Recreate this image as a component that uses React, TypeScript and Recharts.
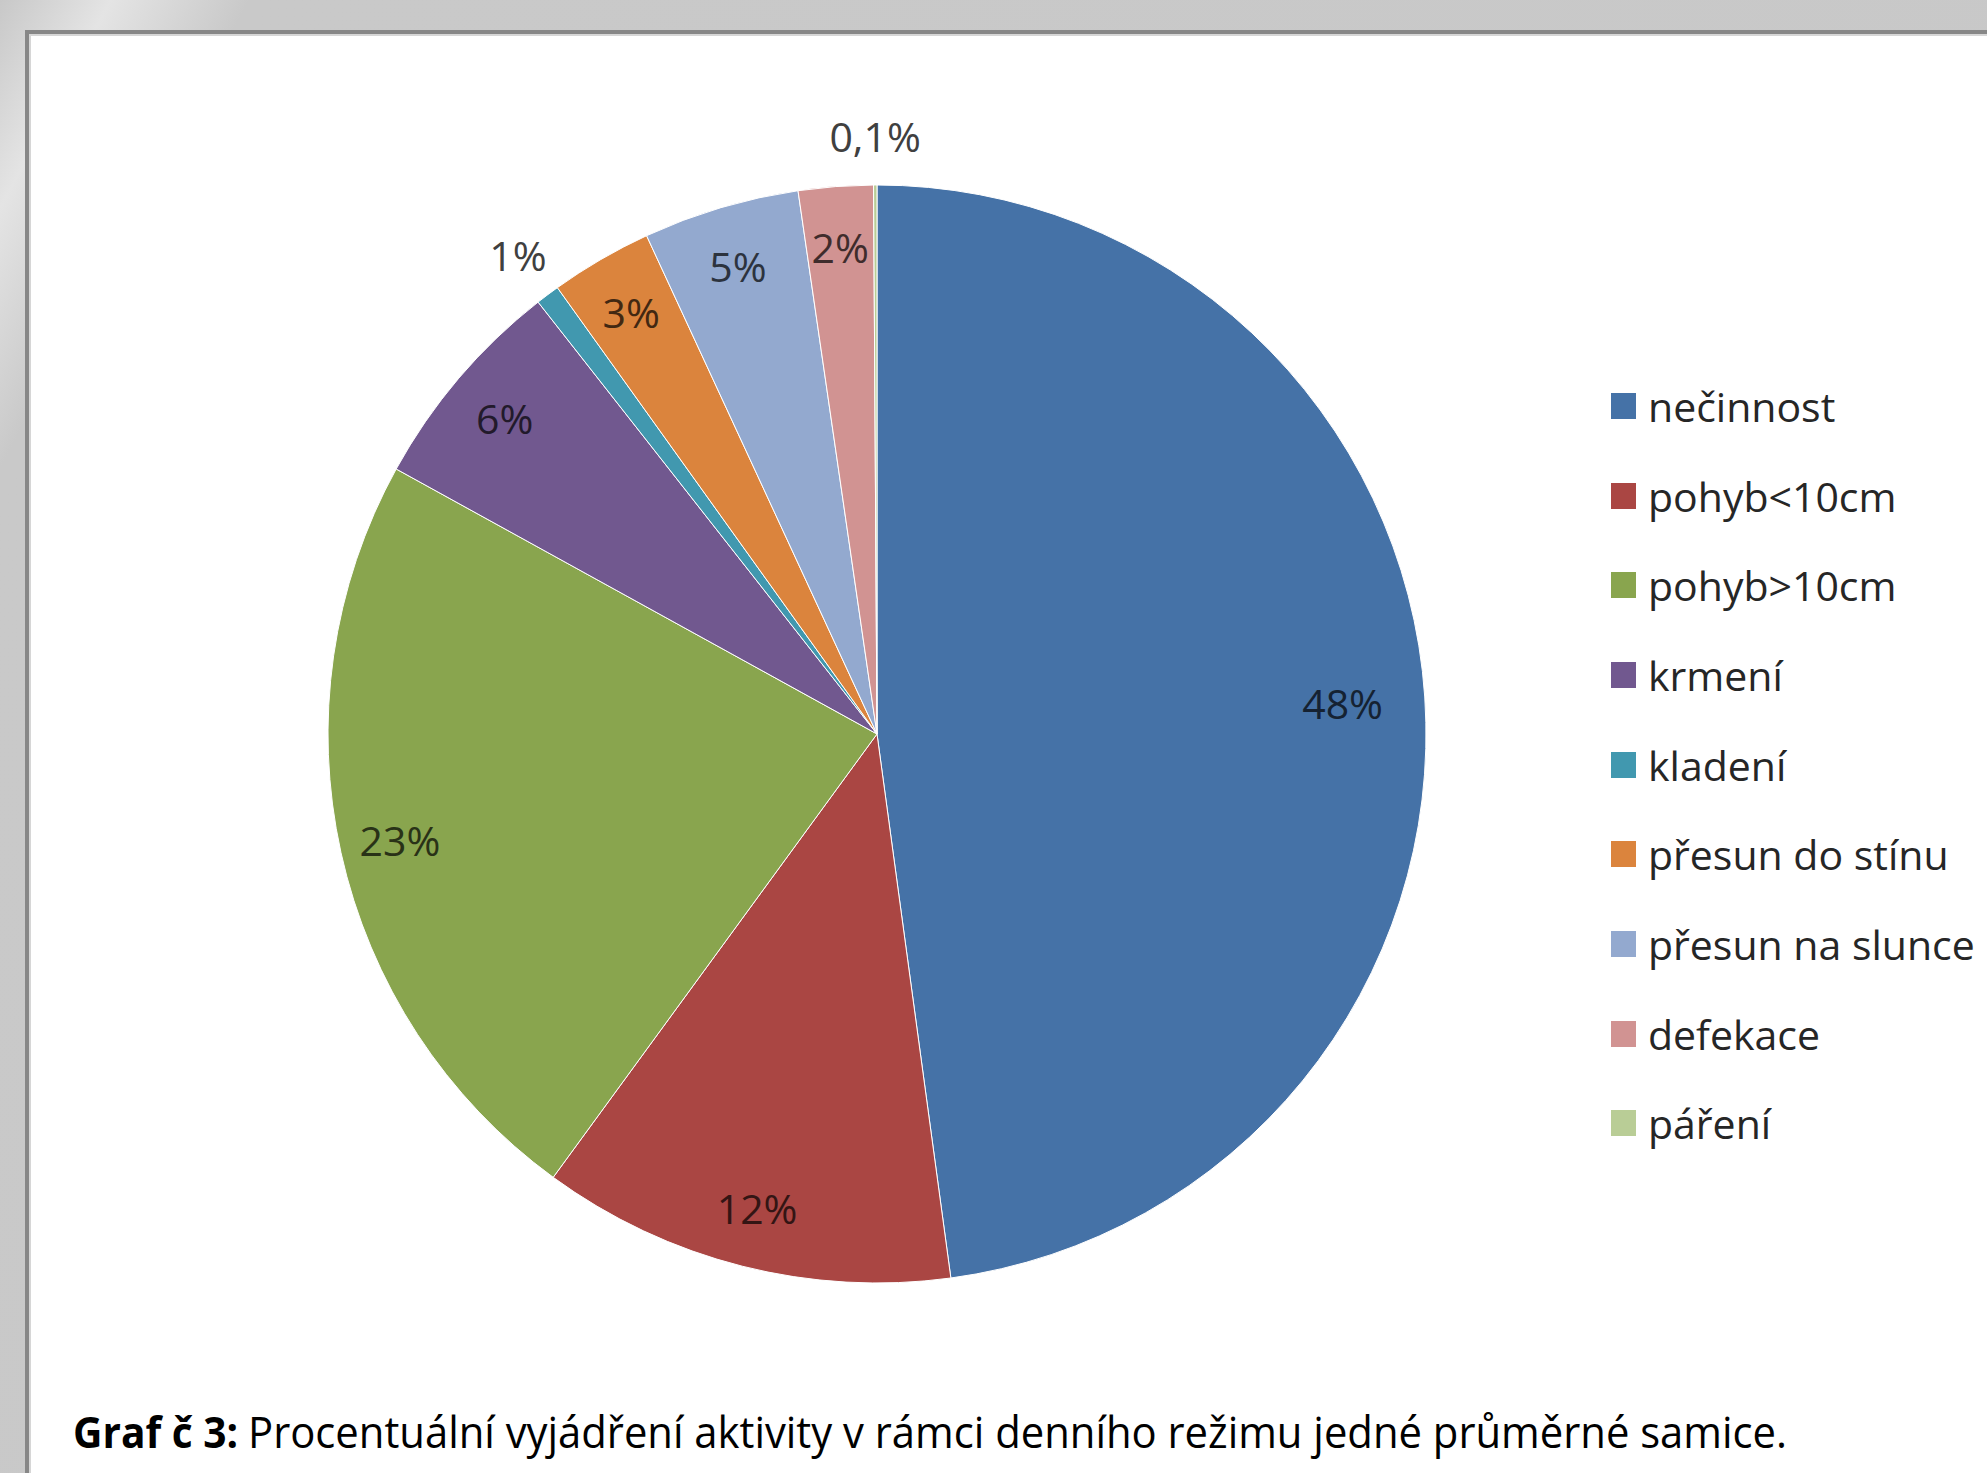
import React from 'react';
import { PieChart, Pie, Cell, Legend } from 'recharts';

// activity shares (%), clockwise from 12 o'clock
const CATEGORIES = [
  'nečinnost',
  'pohyb<10cm',
  'pohyb>10cm',
  'krmení',
  'kladení',
  'přesun do stínu',
  'přesun na slunce',
  'defekace',
  'páření',
];
const SHARES = [47.9, 12.2, 23.0, 6.4, 0.7, 3.0, 4.6, 2.2, 0.1];
const COLORS = ['#4572A7', '#AA4643', '#89A54E', '#71588F', '#4198AF', '#DB843D', '#93A9CF', '#D19392', '#B9CD96'];

const CAPTION_BOLD = 'Graf č 3:';
const CAPTION_TEXT = 'Procentuální vyjádření aktivity v rámci denního režimu jedné průměrné samice.';

const FONT = '"Open Sans", Calibri, sans-serif';
const RAD = Math.PI / 180;

const data = CATEGORIES.map((name, i) => ({ name, value: SHARES[i], fill: COLORS[i] }));

const darken = (hex: string, k: number) => {
  const n = parseInt(hex.slice(1), 16);
  const r = Math.round(((n >> 16) & 255) * k);
  const g = Math.round(((n >> 8) & 255) * k);
  const b = Math.round((n & 255) * k);
  return `rgb(${r},${g},${b})`;
};

const fmt = (v: number) => (v >= 0.5 ? `${Math.round(v)}%` : `${v.toFixed(1).replace('.', ',')}%`);

const renderLabel = (props: any) => {
  const { cx, cy, midAngle, outerRadius, value, index } = props;
  const outside = value < 1;
  // the biggest slice has its label pulled a bit further in
  const k = outside ? 1.09 : value > 40 ? 0.85 : 0.89;
  const r = outerRadius * k;
  const x = cx + r * Math.cos(-midAngle * RAD);
  const y = cy + r * Math.sin(-midAngle * RAD);
  return (
    <text
      x={x}
      y={y}
      textAnchor="middle"
      dominantBaseline="central"
      fontFamily={FONT}
      fontSize={41}
      fill={outside ? '#404040' : darken(COLORS[index], 0.3)}
    >
      {fmt(value)}
    </text>
  );
};

const renderLegend = (props: any) => {
  const items = [...(props.payload || [])].sort(
    (a: any, b: any) => CATEGORIES.indexOf(a.value) - CATEGORIES.indexOf(b.value)
  );
  return (
    <div>
      {items.map((entry: any) => (
        <div key={entry.value} style={{ height: 89.7, display: 'flex', alignItems: 'center' }}>
          <span
            style={{
              display: 'inline-block',
              width: 25,
              height: 26,
              background: COLORS[CATEGORIES.indexOf(entry.value)],
              marginRight: 12,
            }}
          />
          <span style={{ fontFamily: FONT, fontSize: 41, color: '#262626', whiteSpace: 'nowrap' }}>{entry.value}</span>
        </div>
      ))}
    </div>
  );
};

export default function App() {
  return (
    <div
      style={{
        position: 'absolute',
        left: 0,
        top: 0,
        width: 1987,
        height: 1473,
        overflow: 'hidden',
        background: 'linear-gradient(118deg, #c8c8c8 0%, #e4e4e4 4%, #c9c9c9 9%, #c8c8c8 100%)',
      }}
    >
      <div
        style={{
          position: 'absolute',
          left: 25,
          top: 30,
          right: 0,
          bottom: 0,
          background: '#ffffff',
          borderTop: '4px solid #878787',
          borderLeft: '4px solid #878787',
          boxShadow: 'inset 2px 2px 0 #d6d6d6',
        }}
      />
      <div style={{ position: 'absolute', left: 0, top: 0 }}>
        <PieChart width={1987} height={1473} margin={{ top: 0, right: 0, bottom: 0, left: 0 }}>
          <Pie
            data={data}
            dataKey="value"
            nameKey="name"
            cx={877}
            cy={734}
            outerRadius={549}
            startAngle={90}
            endAngle={-270}
            stroke="#ffffff"
            strokeWidth={1}
            label={renderLabel}
            labelLine={false}
            isAnimationActive={false}
          >
            {data.map((d, i) => (
              <Cell key={d.name} fill={COLORS[i]} />
            ))}
          </Pie>
          <Legend
            layout="vertical"
            align="right"
            verticalAlign="top"
            content={renderLegend}
            wrapperStyle={{ left: 1611, top: 361, right: 'auto', bottom: 'auto' }}
          />
        </PieChart>
      </div>
      <svg width={1987} height={1473} style={{ position: 'absolute', left: 0, top: 0, pointerEvents: 'none' }}>
        <text x={73} y={1448} fontFamily={FONT} fontSize={43} fontWeight={700} fill="#000" textLength={165} lengthAdjust="spacingAndGlyphs">
          {CAPTION_BOLD}
        </text>
        <text x={248} y={1448} fontFamily={FONT} fontSize={43} fill="#000" textLength={1539} lengthAdjust="spacingAndGlyphs">
          {CAPTION_TEXT}
        </text>
      </svg>
    </div>
  );
}
